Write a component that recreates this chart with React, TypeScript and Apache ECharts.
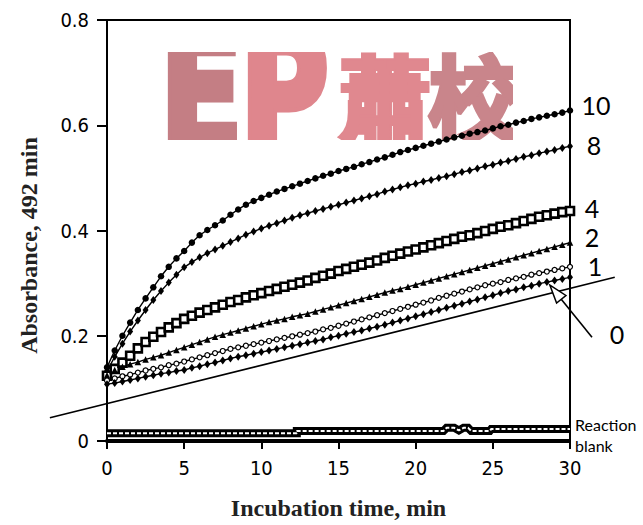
import React, { useEffect, useRef } from "react";
import * as echarts from "echarts";

// Incubation time (min)
const times = [
  0, 0.5, 1, 1.5, 2, 2.5, 3, 3.5, 4, 4.5, 5, 5.5, 6, 6.5, 7, 7.5, 8, 8.5, 9, 9.5,
  10, 10.5, 11, 11.5, 12, 12.5, 13, 13.5, 14, 14.5, 15, 15.5, 16, 16.5, 17, 17.5,
  18, 18.5, 19, 19.5, 20, 20.5, 21, 21.5, 22, 22.5, 23, 23.5, 24, 24.5, 25, 25.5,
  26, 26.5, 27, 27.5, 28, 28.5, 29, 29.5, 30,
];

const abs10 = [
  0.14, 0.172, 0.2, 0.225, 0.249, 0.271, 0.292, 0.313, 0.331, 0.347, 0.361, 0.377,
  0.391, 0.401, 0.41, 0.419, 0.43, 0.44, 0.449, 0.456, 0.462, 0.468, 0.474, 0.479,
  0.484, 0.489, 0.494, 0.499, 0.504, 0.508, 0.513, 0.517, 0.521, 0.526, 0.53, 0.535,
  0.539, 0.544, 0.549, 0.553, 0.557, 0.561, 0.565, 0.569, 0.573, 0.577, 0.58, 0.584,
  0.587, 0.59, 0.594, 0.598, 0.601, 0.605, 0.608, 0.612, 0.615, 0.618, 0.621, 0.624,
  0.628,
];
const abs8 = [
  0.133, 0.16, 0.185, 0.208, 0.229, 0.249, 0.268, 0.285, 0.301, 0.316, 0.33, 0.34,
  0.349, 0.357, 0.364, 0.371, 0.378, 0.385, 0.392, 0.398, 0.404, 0.409, 0.414, 0.419,
  0.424, 0.429, 0.433, 0.437, 0.441, 0.445, 0.449, 0.453, 0.457, 0.461, 0.465, 0.469,
  0.474, 0.478, 0.482, 0.486, 0.489, 0.493, 0.496, 0.5, 0.503, 0.507, 0.511, 0.514,
  0.518, 0.522, 0.525, 0.529, 0.532, 0.536, 0.54, 0.543, 0.547, 0.55, 0.553, 0.557,
  0.56,
];
const abs4 = [
  0.124, 0.137, 0.149, 0.162, 0.176, 0.188, 0.198, 0.207, 0.216, 0.224, 0.232, 0.238,
  0.244, 0.249, 0.254, 0.259, 0.264, 0.268, 0.273, 0.277, 0.281, 0.285, 0.289, 0.293,
  0.297, 0.301, 0.305, 0.31, 0.314, 0.318, 0.323, 0.327, 0.331, 0.335, 0.339, 0.343,
  0.348, 0.352, 0.356, 0.36, 0.364, 0.368, 0.372, 0.376, 0.38, 0.384, 0.388, 0.391,
  0.395, 0.399, 0.403, 0.407, 0.41, 0.414, 0.418, 0.422, 0.426, 0.429, 0.432, 0.435,
  0.437,
];
const abs2 = [
  0.125, 0.135, 0.141, 0.146, 0.15, 0.155, 0.159, 0.163, 0.168, 0.173, 0.178, 0.183,
  0.188, 0.193, 0.198, 0.202, 0.206, 0.21, 0.214, 0.218, 0.222, 0.226, 0.229, 0.232,
  0.236, 0.239, 0.242, 0.246, 0.25, 0.254, 0.258, 0.262, 0.266, 0.27, 0.274, 0.278,
  0.282, 0.286, 0.289, 0.293, 0.297, 0.301, 0.305, 0.309, 0.313, 0.317, 0.321, 0.325,
  0.329, 0.333, 0.337, 0.341, 0.345, 0.349, 0.353, 0.357, 0.361, 0.365, 0.369, 0.373,
  0.377,
];
const abs1 = [
  0.115, 0.119, 0.123, 0.126, 0.13, 0.134, 0.137, 0.14, 0.144, 0.147, 0.151, 0.155,
  0.159, 0.163, 0.167, 0.171, 0.175, 0.178, 0.181, 0.184, 0.187, 0.19, 0.193, 0.196,
  0.199, 0.202, 0.205, 0.208, 0.212, 0.215, 0.219, 0.223, 0.227, 0.231, 0.235, 0.239,
  0.243, 0.247, 0.251, 0.255, 0.259, 0.263, 0.267, 0.272, 0.276, 0.28, 0.284, 0.288,
  0.292, 0.296, 0.299, 0.302, 0.306, 0.309, 0.312, 0.316, 0.319, 0.322, 0.325, 0.328,
  0.331,
];
const abs0 = [
  0.108, 0.11, 0.113, 0.116, 0.119, 0.122, 0.125, 0.128, 0.13, 0.133, 0.135, 0.139,
  0.142, 0.146, 0.149, 0.153, 0.157, 0.16, 0.163, 0.166, 0.169, 0.172, 0.175, 0.178,
  0.181, 0.184, 0.187, 0.19, 0.193, 0.197, 0.2, 0.204, 0.207, 0.21, 0.214, 0.217,
  0.221, 0.225, 0.229, 0.233, 0.237, 0.241, 0.245, 0.249, 0.253, 0.257, 0.261, 0.265,
  0.269, 0.273, 0.277, 0.281, 0.285, 0.288, 0.292, 0.295, 0.299, 0.302, 0.305, 0.308,
  0.311,
];

// Reaction blank
const blankTimes = [0, 12.3, 12.3, 21.8, 22.0, 22.5, 22.8, 23.1, 23.4, 23.6, 24.8, 24.9, 30];
const blankValues = [0.0145, 0.0145, 0.019, 0.019, 0.025, 0.025, 0.02, 0.025, 0.025, 0.019, 0.019, 0.023, 0.023];

// Straight reference line (extends beyond the plot frame)
const refTimes = [-3.7, 32.9];
const refValues = [0.044, 0.311];

// Axis ticks
const xTicks = [0, 5, 10, 15, 20, 25, 30];
const yTicks = [0, 0.2, 0.4, 0.6, 0.8];

const seriesLabels = ["10", "8", "4", "2", "1", "0"];

const TICK_FONT = "'Liberation Sans Narrow', 'DejaVu Sans Condensed', sans-serif";
const TITLE_FONT = "'Liberation Serif', 'DejaVu Serif', serif";
const LABEL_FONT = "Lato, 'Open Sans', sans-serif";

const pairs = (xs: number[], ys: number[]) => xs.map((x, i) => [x, ys[i]]);

export default function App() {
  const ref = useRef<HTMLDivElement>(null);

  useEffect(() => {
    if (!ref.current) return;
    const chart = echarts.init(ref.current, null, { renderer: "svg" });

    const lineBase = (name: string, data: number[][], extra: any) => ({
      name,
      type: "line",
      data,
      smooth: false,
      showSymbol: true,
      lineStyle: { color: "#000", width: 1.4 },
      itemStyle: { color: "#000" },
      z: 5,
      ...extra,
    });

    chart.setOption({
      animation: false,
      backgroundColor: "#fff",
      grid: {
        left: 107,
        right: 73,
        top: 20,
        bottom: 80,
        show: true,
        borderColor: "#000",
        borderWidth: 2,
        backgroundColor: "transparent",
      },
      xAxis: {
        type: "value",
        min: xTicks[0],
        max: xTicks[xTicks.length - 1],
        interval: 5,
        name: "Incubation time, min",
        nameLocation: "middle",
        nameGap: 55,
        nameTextStyle: { fontFamily: TITLE_FONT, fontWeight: "bold", fontSize: 24, color: "#222" },
        axisLine: { show: true, onZero: false, lineStyle: { color: "#000", width: 4 } },
        axisTick: { show: true, length: 8, lineStyle: { color: "#000", width: 2 } },
        axisLabel: { fontFamily: TICK_FONT, fontSize: 20, color: "#000", margin: 17 },
        splitLine: { show: false },
      },
      yAxis: {
        type: "value",
        min: yTicks[0],
        max: yTicks[yTicks.length - 1],
        interval: 0.2,
        name: "Absorbance, 492 min",
        nameLocation: "middle",
        nameGap: 66,
        nameTextStyle: {
          fontFamily: TITLE_FONT,
          fontWeight: "bold",
          fontSize: 24,
          color: "#222",
          padding: [0, 30, 0, 0],
        },
        axisLine: { show: true, lineStyle: { color: "#000", width: 2 } },
        axisTick: { show: true, length: 10, lineStyle: { color: "#000", width: 2 } },
        axisLabel: {
          fontFamily: TICK_FONT,
          fontSize: 20,
          color: "#000",
          margin: 18,
          formatter: (v: number) => (v === 0 ? "0" : v.toFixed(1)),
        },
        splitLine: { show: false },
      },
      series: [
        {
          name: "blank",
          type: "line",
          data: pairs(blankTimes, blankValues),
          showSymbol: false,
          symbol: "none",
          lineStyle: { color: "#000", width: 8, cap: "butt", join: "miter" },
          z: 4,
        },
        {
          name: "blank-inner",
          type: "line",
          data: pairs(blankTimes, blankValues),
          showSymbol: false,
          symbol: "none",
          lineStyle: { color: "#fff", width: 2, type: [4, 2] },
          z: 5,
        },
        lineBase("10", pairs(times, abs10), { symbol: "circle", symbolSize: 6.5 }),
        lineBase("8", pairs(times, abs8), { symbol: "diamond", symbolSize: [6, 8] }),
        lineBase("4", pairs(times, abs4), {
          symbol: "rect",
          symbolSize: 8,
          lineStyle: { color: "#000", width: 3.5 },
          itemStyle: { color: "#fff", borderColor: "#000", borderWidth: 2.6 },
        }),
        lineBase("2", pairs(times, abs2), { symbol: "triangle", symbolSize: 6.5 }),
        lineBase("1", pairs(times, abs1), {
          symbol: "circle",
          symbolSize: 5,
          itemStyle: { color: "#fff", borderColor: "#000", borderWidth: 1.2 },
        }),
        lineBase("0", pairs(times, abs0), { symbol: "diamond", symbolSize: [6, 8] }),
      ],
    });

    const px = (x: number, y: number) => chart.convertToPixel({ gridIndex: 0 }, [x, y]) as number[];
    const lastT = times[times.length - 1];
    const ends = [abs10, abs8, abs4, abs2, abs1, abs0].map((a) => px(lastT, a[a.length - 1]));
    const labelOffsets = [
      [26, -6],
      [24, -1],
      [22, -3],
      [22, -6],
      [25, -1],
      [47, 57],
    ];

    const labelEls = seriesLabels.map((s, i) => ({
      type: "text",
      x: ends[i][0] + labelOffsets[i][0],
      y: ends[i][1] + labelOffsets[i][1],
      z: 20,
      style: {
        text: s,
        fontFamily: LABEL_FONT,
        fontSize: 25,
        lineHeight: 22,
        fill: "#000",
        align: "center",
        verticalAlign: "middle",
      },
    }));

    // straight line through the scales, drawn beyond the frame
    const r0 = px(refTimes[0], refValues[0]);
    const r1 = px(refTimes[1], refValues[1]);

    // arrow to curve 0
    const tip = px(28.7, 0.296);
    const tail = [ends[5][0] + 22, ends[5][1] + 60];
    const dx = tip[0] - tail[0];
    const dy = tip[1] - tail[1];
    const len = Math.hypot(dx, dy);
    const ux = dx / len;
    const uy = dy / len;
    const headL = 18;
    const headW = 6;
    const bx = tip[0] - headL * ux;
    const by = tip[1] - headL * uy;
    const nx = -uy;
    const ny = ux;

    const corner = px(lastT, 0);
    const blankEnd = px(lastT, blankValues[blankValues.length - 1]);

    const wm = (text: string, x: number, y: number, size: number, fill: string, family: string, sx: number, lw: number) => ({
      type: "text",
      x,
      y,
      z: 1,
      scaleX: sx,
      style: {
        text,
        fontFamily: family,
        fontWeight: "bold",
        fontSize: size,
        fill,
        stroke: fill,
        lineWidth: lw,
        verticalAlign: "middle",
      },
    });

    chart.setOption({
      graphic: [
        // watermark (cropped to a band)
        wm("E", 160, 92, 168, "#C47E84", "'DejaVu Sans'", 0.72, 9),
        wm("P", 240, 92, 168, "#DF868D", "'DejaVu Sans'", 0.72, 9),
        wm("蕭", 338, 94, 94, "#E0888F", "'Noto Sans CJK TC'", 1, 4),
        wm("校", 428, 94, 94, "#C9858B", "'Noto Sans CJK TC'", 1, 4),
        { type: "rect", z: 2, shape: { x: 150, y: 22, width: 380, height: 30 }, style: { fill: "#fff" } },
        { type: "rect", z: 2, shape: { x: 150, y: 140, width: 380, height: 50 }, style: { fill: "#fff" } },
        { type: "rect", z: 2, shape: { x: 513, y: 30, width: 30, height: 140 }, style: { fill: "#fff" } },
        {
          type: "line",
          z: 6,
          shape: { x1: r0[0], y1: r0[1], x2: r1[0], y2: r1[1] },
          style: { stroke: "#000", lineWidth: 1.6 },
        },
        ...labelEls,
        {
          type: "line",
          z: 20,
          shape: { x1: tail[0], y1: tail[1], x2: bx, y2: by },
          style: { stroke: "#000", lineWidth: 1.6 },
        },
        {
          type: "polygon",
          z: 20,
          shape: {
            points: [
              [tip[0], tip[1]],
              [bx + headW * nx, by + headW * ny],
              [bx - headW * nx, by - headW * ny],
            ],
          },
          style: { fill: "#fff", stroke: "#000", lineWidth: 1.5 },
        },
        {
          type: "rect",
          z: 20,
          shape: { x: corner[0] + 1, y: blankEnd[1] - 16, width: 72, height: 44 },
          style: { fill: "#fff" },
        },
        {
          type: "text",
          z: 21,
          x: corner[0] + 5,
          y: blankEnd[1] - 15,
          style: {
            text: "Reaction\nblank",
            fontFamily: LABEL_FONT,
            fontSize: 16,
            lineHeight: 21,
            fill: "#000",
            align: "left",
            verticalAlign: "top",
          },
        },
      ],
    });

    return () => chart.dispose();
  }, []);

  return (
    <div
      ref={ref}
      style={{ position: "absolute", left: 0, top: 0, width: 643, height: 525, background: "#fff" }}
    />
  );
}
